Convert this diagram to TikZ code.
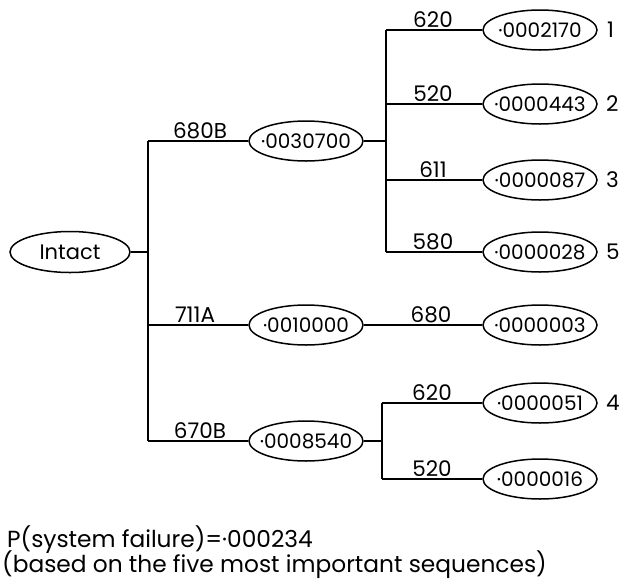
\documentclass[tikz,border=0pt]{standalone}
\usepackage{fontspec}
\setmainfont{Poppins}
\usetikzlibrary{shapes.geometric}
\begin{document}
\begin{tikzpicture}[x=1pt,y=-1pt,
  txt/.style={font=\fontsize{21.5}{24}\selectfont},
  state/.style={ellipse,draw,line width=1.5pt,minimum width=114pt,minimum height=40pt,inner xsep=-20pt,inner ysep=-6pt,font=\fontsize{20}{24}\selectfont},
  lab/.style={txt,anchor=south,inner sep=1pt},
  num/.style={txt,anchor=west,inner sep=0pt},
  captxt/.style={font=\fontsize{23.3}{26}\selectfont,anchor=base west,inner sep=0pt},
  conn/.style={line width=2pt}
]
\useasboundingbox (0,0) rectangle (627,582);
% nodes
\node[state,minimum width=120pt,minimum height=41pt,font=\fontsize{21}{24}\selectfont] (intact) at (70,252) {Intact};
\node[state] (a) at (306,141) {·0030700};
\node[state] (b) at (306,325) {·0010000};
\node[state] (c) at (306,441) {·0008540};
\node[state] (e1) at (540,30) {·0002170};
\node[state] (e2) at (540,104) {·0000443};
\node[state] (e3) at (540,180) {·0000087};
\node[state] (e5) at (540,252) {·0000028};
\node[state] (e6) at (540,325) {·0000003};
\node[state] (e4) at (540,403) {·0000051};
\node[state] (e7) at (540,479) {·0000016};
\node[num] (n1) at (607,30) {1};
\node[num] (n2) at (606,104) {2};
\node[num] (n3) at (606,180) {3};
\node[num] (n5) at (606,252) {5};
\node[num] (n4) at (606,403) {4};
% junctions
\coordinate (j0) at (148,252);
\coordinate (j0t) at (148,141);
\coordinate (j0m) at (148,325);
\coordinate (j0b) at (148,441);
\coordinate (j1) at (386,141);
\coordinate (j1a) at (386,30);
\coordinate (j1b) at (386,104);
\coordinate (j1c) at (386,180);
\coordinate (j1d) at (386,252);
\coordinate (j2) at (382,441);
\coordinate (j2a) at (382,403);
\coordinate (j2b) at (382,479);
% connectors
\draw[conn] (intact) -- (j0);
\draw[conn] (j0t) -- (j0b);
\draw[conn] (j0t) -- (a);
\draw[conn] (j0m) -- (b);
\draw[conn] (j0b) -- (c);
\draw[conn] (a) -- (j1);
\draw[conn] (j1a) -- (j1d);
\draw[conn] (j1a) -- (e1);
\draw[conn] (j1b) -- (e2);
\draw[conn] (j1c) -- (e3);
\draw[conn] (j1d) -- (e5);
\draw[conn] (b) -- (e6);
\draw[conn] (c) -- (j2);
\draw[conn] (j2a) -- (j2b);
\draw[conn] (j2a) -- (e4);
\draw[conn] (j2b) -- (e7);
% labels
\node[lab] (l1) at (200,140) {680B};
\node[lab] (l2) at (195,324) {711A};
\node[lab] (l3) at (200,440) {670B};
\node[lab] (l4) at (433,29) {620};
\node[lab] (l5) at (433,103) {520};
\node[lab] (l6) at (433,179) {611};
\node[lab] (l7) at (433,251) {580};
\node[lab] (l8) at (431,324) {680};
\node[lab] (l9) at (432,402) {620};
\node[lab] (l10) at (432,478) {520};
% caption
\node[captxt] (cap1) at (7,547) {P(system failure)=·000234};
\node[captxt] (cap2) at (2,572) {(based on the five most important sequences)};
\end{tikzpicture}
\end{document}
